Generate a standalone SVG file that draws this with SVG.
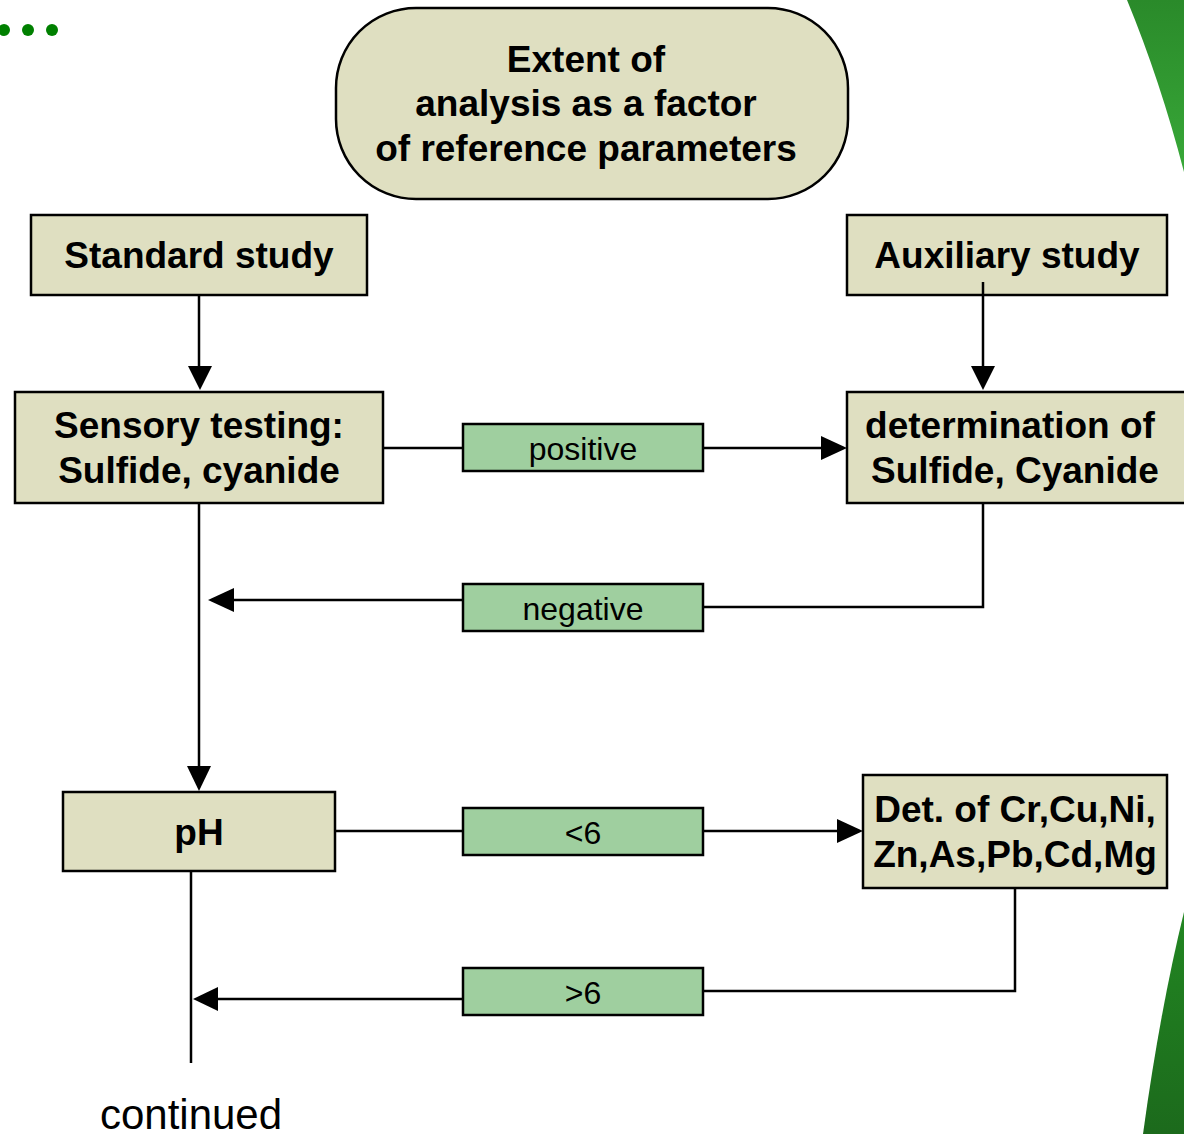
<svg xmlns="http://www.w3.org/2000/svg" width="1184" height="1134" viewBox="0 0 1184 1134">
<defs>
<style>
.box{fill:#dfdfc1;stroke:#000;stroke-width:2.5}
.lbl{fill:#9fcf9f;stroke:#000;stroke-width:2.5}
.t{font-family:"Liberation Sans",Arial,sans-serif;font-weight:bold;font-size:37px;fill:#000;text-anchor:middle}
.l{font-family:"Liberation Sans",Arial,sans-serif;font-size:32px;fill:#000;text-anchor:middle}
.c{fill:none;stroke:#000;stroke-width:2.5}
</style>
<linearGradient id="g1" x1="0" y1="0" x2="0" y2="1"><stop offset="0" stop-color="#2a8a2a"/><stop offset="1" stop-color="#38a838"/></linearGradient>
<linearGradient id="g2" x1="0" y1="0" x2="0" y2="1"><stop offset="0" stop-color="#228622"/><stop offset="1" stop-color="#1c6a1c"/></linearGradient>
</defs>
<rect width="1184" height="1134" fill="#fff"/>
<g id="decor">
<path d="M1127,0 Q1160,80 1184,172 L1184,0 Z" fill="url(#g1)"/>
<path d="M1184,912 Q1160,1010 1143,1134 L1184,1134 Z" fill="url(#g2)"/>
<circle cx="4" cy="30" r="6" fill="#008000"/>
<circle cx="28" cy="30" r="6" fill="#008000"/>
<circle cx="52" cy="30" r="6" fill="#008000"/>
</g>
<g id="connectors">
<line class="c" x1="199" y1="295" x2="199" y2="370"/>
<path d="M188,366 L212,366 L200,390 Z" fill="#000"/>
<line class="c" x1="983" y1="282" x2="983" y2="370"/>
<path d="M971,366 L995,366 L983,390 Z" fill="#000"/>
<line class="c" x1="383" y1="448" x2="463" y2="448"/>
<line class="c" x1="703" y1="448" x2="825" y2="448"/>
<path d="M821,436 L847,448 L821,460 Z" fill="#000"/>
<polyline class="c" points="983,503 983,607 703,607"/>
<line class="c" x1="463" y1="600" x2="230" y2="600"/>
<path d="M234,588 L208,600 L234,612 Z" fill="#000"/>
<line class="c" x1="199" y1="503" x2="199" y2="770"/>
<path d="M187,766 L211,766 L199,791 Z" fill="#000"/>
<line class="c" x1="335" y1="831" x2="463" y2="831"/>
<line class="c" x1="703" y1="831" x2="840" y2="831"/>
<path d="M837,819 L863,831 L837,843 Z" fill="#000"/>
<polyline class="c" points="1015,888 1015,991 703,991"/>
<line class="c" x1="463" y1="999" x2="212" y2="999"/>
<path d="M218,987 L193,999 L218,1011 Z" fill="#000"/>
<line class="c" x1="191" y1="871" x2="191" y2="1063"/>
</g>
<g id="title">
<rect class="box" x="336" y="8" width="512" height="191" rx="80" ry="80"/>
<text class="t" x="586" y="72">Extent of</text>
<text class="t" x="586" y="116">analysis as a factor</text>
<text class="t" x="586" y="161">of reference parameters</text>
</g>
<g id="standard">
<rect class="box" x="31" y="215" width="336" height="80"/>
<text class="t" x="199" y="268">Standard study</text>
</g>
<g id="auxiliary">
<rect class="box" x="847" y="215" width="320" height="80"/>
<text class="t" x="1007" y="268">Auxiliary study</text>
<line class="c" x1="983" y1="282" x2="983" y2="295"/>
</g>
<g id="sensory">
<rect class="box" x="15" y="392" width="368" height="111"/>
<text class="t" x="199" y="438">Sensory testing:</text>
<text class="t" x="199" y="483">Sulfide, cyanide</text>
</g>
<g id="determination">
<rect class="box" x="847" y="392" width="340" height="111"/>
<text class="t" x="1010" y="438">determination of</text>
<text class="t" x="1015" y="483">Sulfide, Cyanide</text>
</g>
<g id="ph">
<rect class="box" x="63" y="792" width="272" height="79"/>
<text class="t" x="199" y="845">pH</text>
</g>
<g id="metals">
<rect class="box" x="863" y="775" width="304" height="113"/>
<text class="t" x="1015" y="822">Det. of Cr,Cu,Ni,</text>
<text class="t" x="1015" y="867">Zn,As,Pb,Cd,Mg</text>
</g>
<g id="lbl-positive">
<rect class="lbl" x="463" y="424" width="240" height="47"/>
<text class="l" x="583" y="460">positive</text>
</g>
<g id="lbl-negative">
<rect class="lbl" x="463" y="584" width="240" height="47"/>
<text class="l" x="583" y="620">negative</text>
</g>
<g id="lbl-lt6">
<rect class="lbl" x="463" y="808" width="240" height="47"/>
<text class="l" x="583" y="844">&lt;6</text>
</g>
<g id="lbl-gt6">
<rect class="lbl" x="463" y="968" width="240" height="47"/>
<text class="l" x="583" y="1004">&gt;6</text>
</g>
<text class="l" x="191" y="1129" style="font-size:42px">continued</text>
</svg>
